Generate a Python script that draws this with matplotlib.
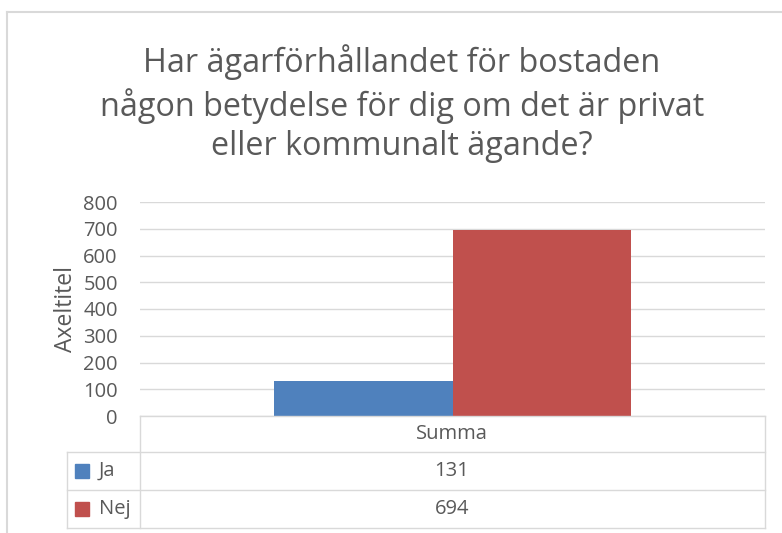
import matplotlib.pyplot as plt
from matplotlib.patches import Rectangle
from matplotlib.lines import Line2D

title = "Har ägarförhållandet för bostaden\nnågon betydelse för dig om det är privat\neller kommunalt ägande?"
category = "Summa"
series = ["Ja", "Nej"]
values = [131, 694]
colors = ["#4f81bd", "#c0504d"]
yticks = [0, 100, 200, 300, 400, 500, 600, 700, 800]

W, H = 782, 533
plt.rcParams['font.family'] = ['Open Sans', 'DejaVu Sans']
fig = plt.figure(figsize=(W / 100, H / 100), dpi=100)
txt = "#595959"
grid = "#d9d9d9"


def fx(x):
    return x / W


def fy(y):
    return 1 - y / H


def hline(x0, x1, y, c=grid, lw=1.0):
    fig.add_artist(Line2D([fx(x0), fx(x1)], [fy(y), fy(y)], color=c, lw=lw, transform=fig.transFigure))


def vline(x, y0, y1, c=grid, lw=1.0):
    fig.add_artist(Line2D([fx(x), fx(x)], [fy(y0), fy(y1)], color=c, lw=lw, transform=fig.transFigure))


# outer chart border
hline(7, W, 12, c="#d9d9d9", lw=1.5)
vline(7, 12, H, c="#d9d9d9", lw=1.5)

# plot area
left, right, top, bottom = 140, 765, 202, 416
ax = fig.add_axes([fx(left), fy(bottom), (right - left) / W, (bottom - top) / H])
ax.set_ylim(0, 800)
ax.set_xlim(-0.5, 0.5)
bw = 178.5 / (right - left)
for i, (s, v) in enumerate(zip(series, values)):
    ax.bar((i - 0.5) * bw, v, width=bw, color=colors[i], zorder=3)
ax.set_yticks(yticks)
ax.set_yticklabels([str(t) for t in yticks], fontsize=14.5, color=txt)
ax.tick_params(axis='y', length=0, pad=16)
ax.set_xticks([])
ax.grid(axis='y', color=grid, lw=1.0, zorder=0)
for sp in ax.spines.values():
    sp.set_visible(False)
ax.set_ylabel("Axeltitel", fontsize=16.5, color=txt, labelpad=4)

fig.text(fx(402), fy(104), title, ha='center', va='center', fontsize=23.3,
         color=txt, linespacing=1.27)

# data table
rows = [416, 452, 490, 528]
vline(left, rows[0], rows[-1])
vline(right, rows[0], rows[-1])
vline(67, rows[1], rows[-1])
hline(left, right, rows[0])
for r in rows[1:]:
    hline(67, right, r)
fig.text(fx(452), fy((rows[0] + rows[1]) / 2), category, ha='center', va='center',
         fontsize=14.5, color=txt)
for i, (s, v) in enumerate(zip(series, values)):
    yc = (rows[i + 1] + rows[i + 2]) / 2
    fig.add_artist(Rectangle((fx(75), fy(yc + 7)), 14 / W, 14 / H, color=colors[i],
                             transform=fig.transFigure))
    fig.text(fx(99), fy(yc), s, ha='left', va='center', fontsize=14.5, color=txt)
    fig.text(fx(452), fy(yc), str(v), ha='center', va='center', fontsize=14.5, color=txt)

fig.savefig("out.png", dpi=100)
